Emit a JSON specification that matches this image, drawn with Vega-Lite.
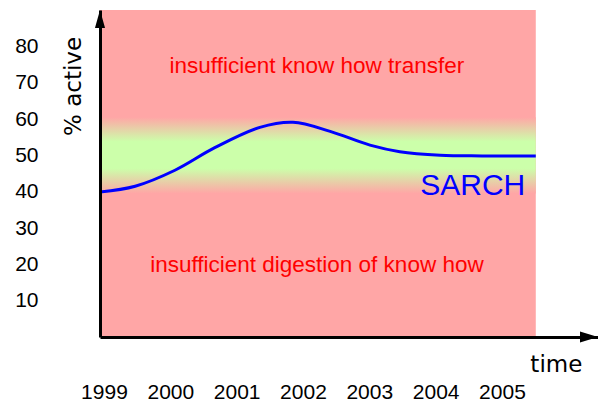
{
  "$schema": "https://vega.github.io/schema/vega-lite/v6.json",
  "autosize": {"type": "none"},
  "padding": {"left": 100, "top": 10, "right": 0, "bottom": 66},
  "width": 498,
  "height": 327,
  "background": "white",
  "config": {"view": {"stroke": null}},
  "encoding": {
    "x": {
      "field": "x", "type": "quantitative",
      "scale": {"domain": [1998.94, 2006.448], "nice": false, "zero": false},
      "axis": {
        "values": [1999, 2000, 2001, 2002, 2003, 2004, 2005],
        "format": "d", "title": null, "grid": false, "ticks": false, "tickSize": 0,
        "labelFont": "Liberation Sans", "labelFontSize": 21, "labelColor": "black",
        "labelPadding": 44, "labelFlush": false, "labelOverlap": false,
        "domainColor": "black", "domainWidth": 3, "zindex": 1
      }
    },
    "y": {
      "field": "y", "type": "quantitative",
      "scale": {"domain": [0, 90], "nice": false, "zero": true},
      "axis": {
        "values": [10, 20, 30, 40, 50, 60, 70, 80],
        "title": null, "grid": false, "ticks": false, "tickSize": 0,
        "labelFont": "Liberation Sans", "labelFontSize": 21, "labelColor": "black",
        "labelPadding": 62, "labelAlign": "right", "labelBaseline": "middle",
        "labelFlush": false, "labelOverlap": false,
        "domainColor": "black", "domainWidth": 3, "zindex": 1
      }
    }
  },
  "layer": [
    {
      "data": {"values": [{"x": 1998.94, "x2": 2005.51, "y": 0, "y2": 90}]},
      "mark": {"type": "rect", "color": "#ffa6a6"},
      "encoding": {"x2": {"field": "x2"}, "y2": {"field": "y2"}}
    },
    {
      "data": {"values": [{"x": 1998.94, "x2": 2005.51, "y": 39.5, "y2": 60.5}]},
      "mark": {
        "type": "rect",
        "fill": {
          "gradient": "linear", "x1": 0, "y1": 0, "x2": 0, "y2": 1,
          "stops": [
            {"offset": 0, "color": "#ffa6a6"},
            {"offset": 0.32, "color": "#ccffaa"},
            {"offset": 0.67, "color": "#ccffaa"},
            {"offset": 1, "color": "#ffa6a6"}
          ]
        }
      },
      "encoding": {"x2": {"field": "x2"}, "y2": {"field": "y2"}}
    },
    {
      "data": {"values": [
        {"x": 1998.94, "y": 39.9},
        {"x": 1999.47, "y": 41.5},
        {"x": 2000.07, "y": 45.9},
        {"x": 2000.67, "y": 52.1},
        {"x": 2001.35, "y": 57.7},
        {"x": 2001.85, "y": 59.1},
        {"x": 2002.41, "y": 56.6},
        {"x": 2003.01, "y": 52.8},
        {"x": 2003.46, "y": 51.0},
        {"x": 2004.07, "y": 50.05},
        {"x": 2004.7, "y": 49.85},
        {"x": 2005.51, "y": 49.8}
      ]},
      "mark": {"type": "line", "color": "#0000ff", "strokeWidth": 3, "interpolate": "catmull-rom"}
    },
    {
      "data": {"values": [
        {"x": 2002.21, "y": 72.7, "label": "insufficient know how transfer"},
        {"x": 2002.21, "y": 17.97, "label": "insufficient digestion of know how"}
      ]},
      "mark": {"type": "text", "font": "Liberation Sans", "fontSize": 22.5, "color": "#ff0000", "align": "center", "baseline": "alphabetic"},
      "encoding": {"text": {"field": "label"}}
    },
    {
      "data": {"values": [{"x": 2004.56, "y": 39.1, "label": "SARCH"}]},
      "mark": {"type": "text", "font": "Liberation Sans", "fontSize": 30, "color": "#0000ff", "align": "center", "baseline": "alphabetic"},
      "encoding": {"text": {"field": "label"}}
    },
    {
      "data": {"values": [{"x": 2005.82, "y": -9.63, "label": "time"}]},
      "mark": {"type": "text", "font": "DejaVu Sans", "fontSize": 23, "color": "black", "align": "center", "baseline": "alphabetic"},
      "encoding": {"text": {"field": "label"}}
    },
    {
      "data": {"values": [{"x": 1998.66, "y": 68.95, "label": "% active"}]},
      "mark": {"type": "text", "font": "DejaVu Sans", "fontSize": 23, "color": "black", "align": "center", "baseline": "alphabetic", "angle": 270},
      "encoding": {"text": {"field": "label"}}
    },
    {
      "data": {"values": [{"x": 1998.94, "y": 87.52}]},
      "mark": {"type": "point", "shape": "M0,-1L0.56,1L-0.56,1Z", "size": 324, "filled": true, "color": "black", "opacity": 1, "strokeWidth": 0}
    },
    {
      "data": {"values": [{"x": 2006.312, "y": 0}]},
      "mark": {"type": "point", "shape": "M1,0L-1,-0.6L-1,0.6Z", "size": 324, "filled": true, "color": "black", "opacity": 1, "strokeWidth": 0}
    }
  ]
}
